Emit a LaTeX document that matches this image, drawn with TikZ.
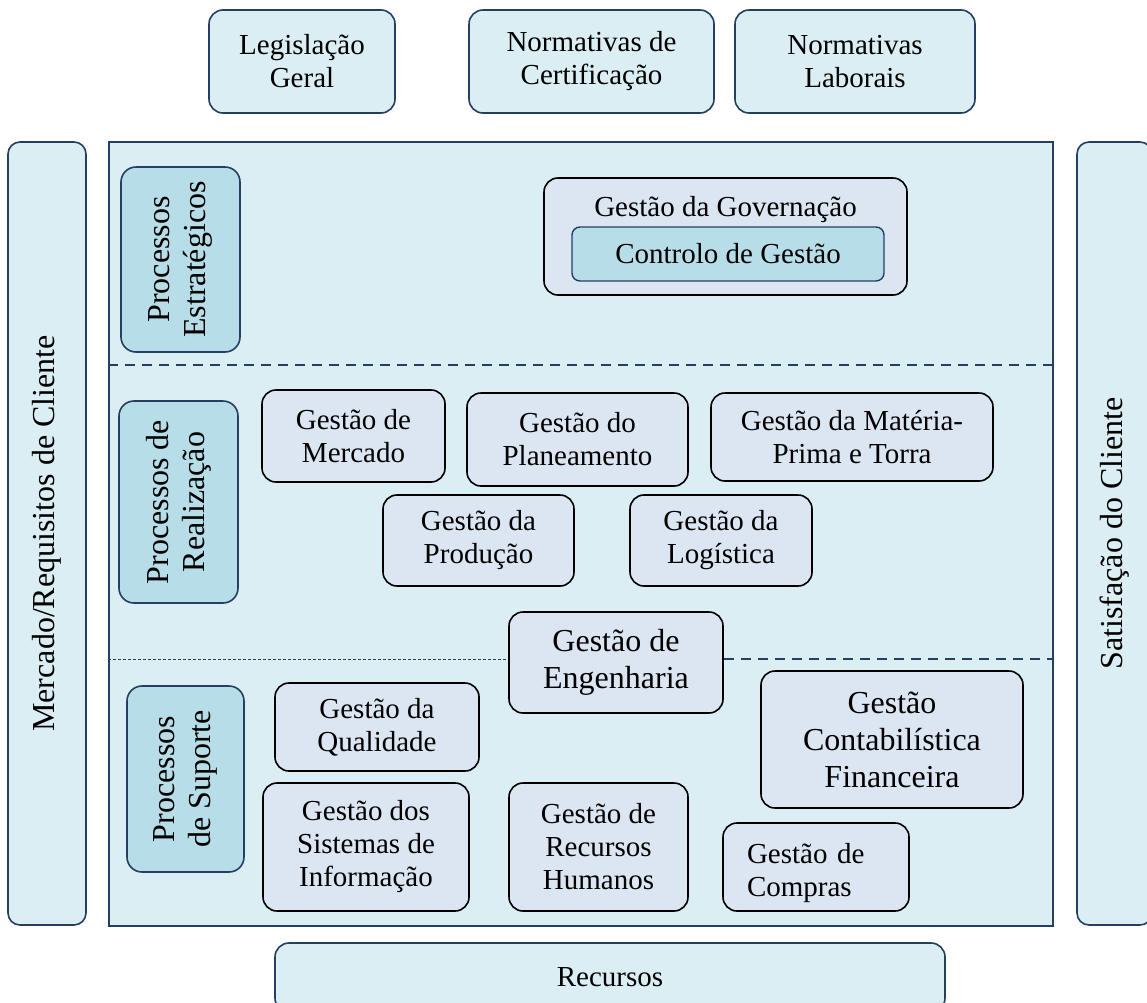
\documentclass[tikz,border=0pt]{standalone}
\usepackage{fontspec}
\setmainfont{Liberation Serif}
\definecolor{bgblue}{RGB}{218,238,243}
\definecolor{procblue}{RGB}{183,222,232}
\definecolor{gestfill}{RGB}{220,230,242}
\definecolor{edgeblue}{RGB}{36,63,98}
\tikzset{
  areabox/.style = {draw = edgeblue, fill = bgblue, line width = 1.6pt, rounded corners = 14pt, align = center, inner sep = 0pt},
  procbox/.style = {draw = edgeblue, fill = procblue, line width = 1.6pt, rounded corners = 15pt, align = center, inner sep = 0pt, rotate = 90, font = \fontsize{32}{36}\selectfont},
  ctrlbox/.style = {draw = edgeblue, fill = procblue, line width = 1.4pt, rounded corners = 8pt, inner sep = 0pt},
  gestbox/.style = {draw = black, fill = gestfill, line width = 1.6pt, rounded corners = 14pt, align = center, inner sep = 0pt},
  bigtext/.style = {font = \fontsize{32}{37}\selectfont},
  sepline/.style = {draw = edgeblue, line width = 1.5pt, dash pattern = on 10pt off 7pt},
  thinsep/.style = {draw = edgeblue, line width = 0.8pt, dash pattern = on 3pt off 2pt}
}
\begin{document}
\begin{tikzpicture}[x = 1pt, y = -1pt, font = \fontsize{29}{33}\selectfont]
\useasboundingbox (0,0) rectangle (1147,1002);
\foreach \cx/\w/\name/\txt in {302/186/legis/{Legislação\\Geral}, 591.5/245/certif/{Normativas de\\Certificação}, 855/240/labor/{Normativas\\Laborais}}
  \node[areabox, minimum width = \w, minimum height = 103] (\name) at (\cx,61.5) {\txt};
\node[areabox, rounded corners = 12pt, minimum width = 783, minimum height = 78, rotate = 90, bigtext] (mercado) at (47,533.5) {Mercado/Requisitos de Cliente};
\node[areabox, rounded corners = 12pt, minimum width = 783, minimum height = 75, rotate = 90, bigtext] (satisf) at (1114.5,533.5) {Satisfação do Cliente};
\node[areabox, rounded corners = 0pt, minimum width = 944, minimum height = 784] (main) at (581,534) {};
\node[areabox, minimum width = 670, minimum height = 69] (recursos) at (610,977.5) {Recursos};
\draw[sepline] (main.west |- 0,365) -- (main.east |- 0,365);
\node[procbox, minimum width = 185, minimum height = 119] (estrat) at (180.5,259.5) {Processos\\Estratégicos};
\node[procbox, minimum width = 202, minimum height = 119] (realiz) at (178.5,502) {Processos de\\Realização};
\node[procbox, minimum width = 186, minimum height = 117] (suporte) at (185.5,779) {Processos\\de Suporte};
\node[gestbox, minimum width = 363, minimum height = 117] (govern) at (725.5,236.5) {};
\node (governtxt) at (725.5,210) {Gestão da Governação};
\node[ctrlbox, minimum width = 312, minimum height = 54] (controlo) at (728,254) {Controlo de Gestão};
\node[gestbox, minimum width = 183, minimum height = 92] (mercgest) at (353.5,436) {Gestão de\\Mercado};
\node[gestbox, minimum width = 221, minimum height = 93] (planeam) at (577.5,439.5) {Gestão do\\Planeamento};
\node[gestbox, minimum width = 282, minimum height = 88] (materia) at (852,437) {Gestão da Matéria-\\Prima e Torra};
\node[gestbox, minimum width = 191, minimum height = 91] (producao) at (478.5,540.5) {Gestão da\\Produção};
\node[gestbox, minimum width = 182, minimum height = 91] (logist) at (721,540.5) {Gestão da\\Logística};
\node[gestbox, bigtext, minimum width = 214, minimum height = 101] (engenh) at (616,662.5) {Gestão de\\Engenharia};
\draw[thinsep] (main.west |- 0,659) -- (engenh.west |- 0,659);
\draw[sepline] (engenh.east |- 0,659) -- (main.east |- 0,659);
\node[gestbox, minimum width = 204, minimum height = 88] (qualid) at (377,727) {Gestão da\\Qualidade};
\node[gestbox, bigtext, minimum width = 262, minimum height = 137] (contab) at (892,739.5) {Gestão\\Contabilística\\Financeira};
\node[gestbox, minimum width = 206, minimum height = 128] (sistinf) at (366,847) {Gestão dos\\Sistemas de\\Informação};
\node[gestbox, minimum width = 179, minimum height = 128] (rechum) at (598.5,847) {Gestão de\\Recursos\\Humanos};
\node[gestbox, align = left, text width = 138, inner xsep = 24pt, minimum height = 88, text height = 32pt] (compras) at (816,867) {Gestão de\\Compras};
\end{tikzpicture}
\end{document}
